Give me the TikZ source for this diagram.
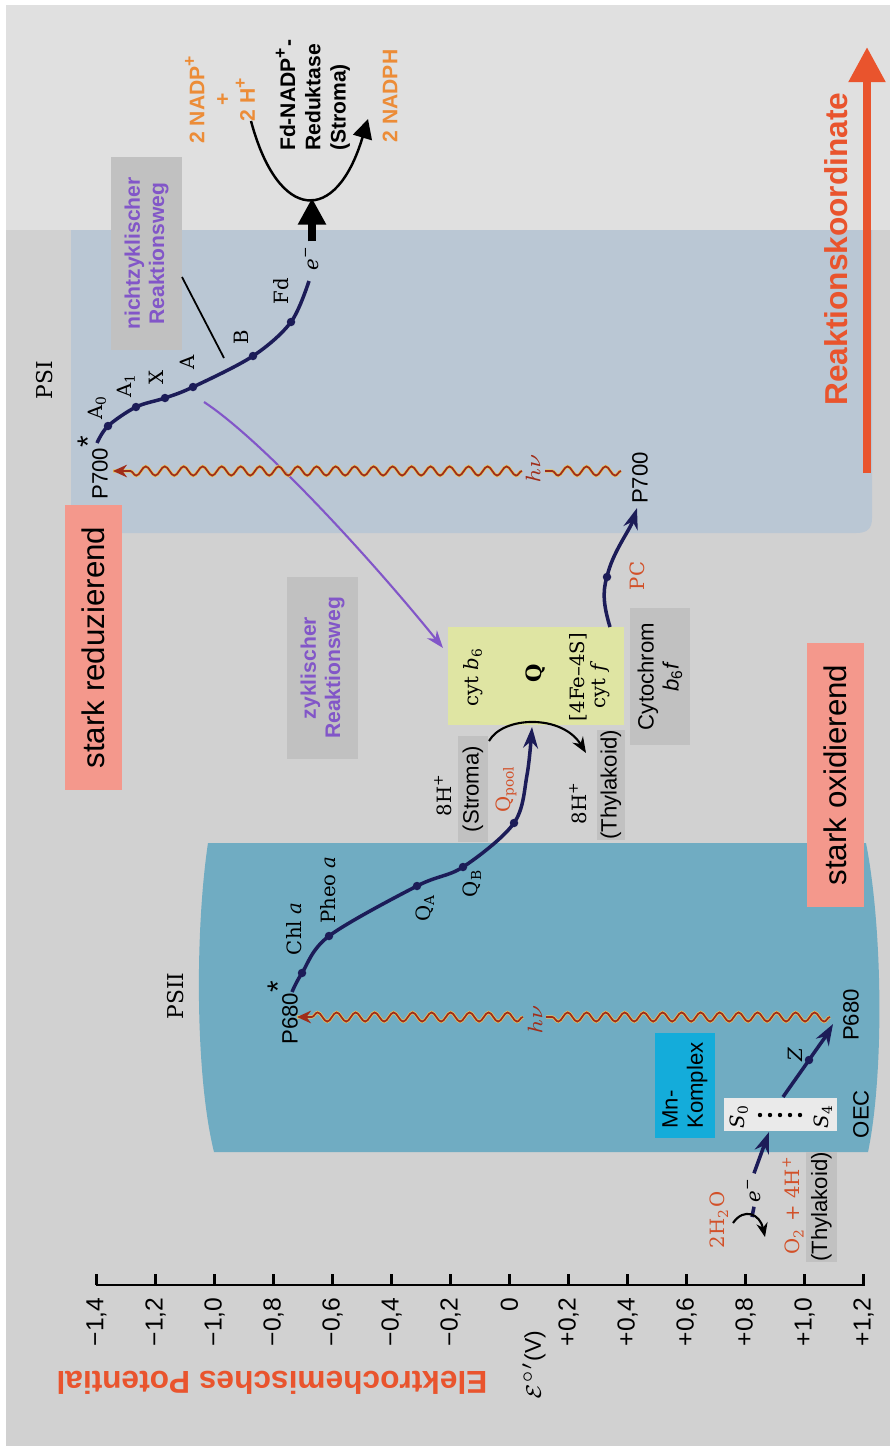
\documentclass[tikz,border=0pt]{standalone}
\usepackage{fontspec}
\setmainfont{Liberation Sans}
\newfontfamily\serifface{DejaVu Serif}
\usepackage{tikz}
\usetikzlibrary{arrows.meta,decorations.pathmorphing,positioning}

\definecolor{bggrey}{RGB}{209,209,209}
\definecolor{topgrey}{RGB}{224,224,224}
\definecolor{psione}{RGB}{186,199,212}
\definecolor{psitwo}{RGB}{112,172,194}
\definecolor{salmon}{RGB}{244,152,140}
\definecolor{redorange}{RGB}{233,84,45}
\definecolor{orangeT}{RGB}{236,140,55}
\definecolor{navy}{RGB}{28,28,88}
\definecolor{violet}{RGB}{130,86,200}
\definecolor{boxgrey}{RGB}{193,193,193}
\definecolor{cytyellow}{RGB}{223,229,163}
\definecolor{mncyan}{RGB}{20,172,218}
\definecolor{brownred}{RGB}{160,45,25}
\definecolor{wavey}{RGB}{232,196,96}
\definecolor{chemred}{RGB}{210,80,40}
\definecolor{sboxwhite}{RGB}{234,234,234}

\newcommand\bigstar{\textsuperscript{\fontsize{8.5}{8.5}\selectfont *}}

\begin{document}
\begin{tikzpicture}[x=0.01cm, y=-0.01cm,
    lbl/.style={rotate=90, inner sep=1pt, font=\fontsize{6.3}{7.2}\selectfont},
    slbl/.style={rotate=90, inner sep=1pt, font=\serifface\fontsize{5.6}{6.6}\selectfont},
    chem/.style={slbl, text=chemred},
    hnu/.style={rotate=90, inner sep=0pt, text=brownred, font=\fontsize{6.5}{7}\selectfont},
    ticklbl/.style={rotate=90, anchor=east, inner sep=0pt, font=\fontsize{7}{8}\selectfont},
    stark/.style={rotate=90, fill=salmon, minimum height=0.57cm, inner sep=0pt, font=\fontsize{8.9}{10}\selectfont},
    pathbox/.style={rotate=90, fill=boxgrey, align=center, text=violet, inner sep=0pt, font=\bfseries\fontsize{6}{6.9}\selectfont},
    greybox/.style={rotate=90, fill=boxgrey, inner sep=0pt, font=\fontsize{6.3}{7.1}\selectfont},
    boldlbl/.style={rotate=90, inner sep=0pt, font=\bfseries\fontsize{6}{7.2}\selectfont},
    etchain/.style={navy, line width=1pt},
    etchainarrow/.style={etchain, -{Stealth[length=6pt, width=4.2pt]}},
    dot/.style={circle, fill=navy, inner sep=0pt, minimum size=0.085cm},
    wave/.style={decorate, decoration={snake, amplitude=1.3pt, segment length=5.4pt}},
    wavetip/.style={decorate, decoration={snake, amplitude=1.3pt, segment length=5.4pt, post length=3pt}}]

  % background and the two photosystems
  \useasboundingbox (0,0) rectangle (890,1451);
  \fill[white] (0,0) rectangle (890,1451);
  \fill[bggrey] (6,5) rectangle (890,1446);
  \fill[topgrey] (6,5) rectangle (890,230);
  \fill[psione] (71,230) -- (71,518) .. controls (71,529) and (76,533) .. (87,533)
    -- (856,533) .. controls (867,533) and (872,529) .. (872,518) -- (872,230) -- cycle;
  \fill[psitwo] (208,843) .. controls (195,930) and (195,1075) .. (214,1152)
    -- (868,1152) .. controls (884,1075) and (883,930) .. (866,843) -- cycle;

  % potential axis
  \coordinate (ax0) at (96,1285);
  \coordinate (ax1) at (865,1285);
  \draw[line width=0.7pt] (ax0) -- (ax1);
  \foreach \lab [count=\i from 0] in {{−1,4},{−1,2},{−1,0},{−0,8},{−0,6},{−0,4},{−0,2},{0},{+0,2},{+0,4},{+0,6},{+0,8},{+1,0},{+1,2}} {
    \draw[line width=0.7pt] (96.5+59*\i,1285) -- (96.5+59*\i,1274);
    \node[ticklbl] (tk\i) at (96.5+59*\i,1297) {\lab};
  }
  \node[rotate=90, inner sep=0pt, font=\fontsize{6.5}{7}\selectfont] (evolt) at (534,1365) {$\mathcal{E}^{\circ\prime}$(V)};
  \node[rotate=180, text=redorange, font=\bfseries\fontsize{9}{10}\selectfont] (ecp) at (272,1383) {Elektrochemisches Potential};

  % reaction coordinate
  \coordinate (rk0) at (867,473);
  \coordinate (rk1) at (867,47);
  \draw[redorange, line width=2.3pt, -{Triangle[width=10pt, length=10pt]}] (rk0) -- (rk1);
  \node[rotate=90, text=redorange, font=\bfseries\fontsize{9}{10}\selectfont] (rktext) at (836,249) {Reaktionskoordinate};

  % PSI chain
  \node[slbl, font=\serifface\fontsize{6.2}{7}\selectfont] (psi) at (45,380) {PSI};
  \coordinate (p700s) at (97,443);
  \coordinate (a0) at (108,426);
  \coordinate (a1) at (136,407);
  \coordinate (xx) at (165,398);
  \coordinate (aa) at (193,387);
  \coordinate (bb) at (253,356);
  \coordinate (fd) at (291,322);
  \coordinate (fdend) at (309,281);
  \draw[etchain] plot[smooth, tension=0.55] coordinates {(p700s) (a0) (a1) (xx) (aa) (bb) (fd) (fdend)};
  \foreach \c in {a0,a1,xx,aa,bb,fd} \node[dot] (d\c) at (\c) {};
  \node[lbl] (p700slab) at (93,467) {P700\bigstar};
  \node[slbl] (la0) at (97,407) {A\textsubscript{0}};
  \node[slbl] (la1) at (126,385) {A\textsubscript{1}};
  \node[slbl] (lxx) at (156,377) {X};
  \node[slbl] (laa) at (187,362) {A};
  \node[slbl] (lbb) at (241,337) {B};
  \node[slbl] (lfd) at (281,291) {Fd};
  \node[slbl] (epsi) at (312,258) {\textit{e}\textsuperscript{−}};
  \coordinate (ubot) at (312,198);
  \draw[line width=2pt, -{Triangle[width=7.6pt, length=7.6pt]}] (epsi.east) -- (ubot);

  % NADP+ reduction
  \coordinate (nadpin) at (251,121);
  \coordinate (nadpout) at (368,119);
  \draw[line width=0.7pt, -{Triangle[width=5.5pt, length=5.5pt]}] (nadpin) .. controls (278,222) and (336,226) .. (nadpout);
  \node[boldlbl, text=orangeT, align=center] (nadp) at (220,99) {2 NADP\textsuperscript{+}\\+\\2 H\textsuperscript{+}};
  \node[boldlbl, align=left] (fnr) at (313,95) {Fd-NADP\textsuperscript{+}-\\Reduktase\\(Stroma)};
  \node[boldlbl, text=orangeT] (nadph) at (390,96) {2 NADPH};

  % pathways
  \node[pathbox, minimum width=1.93cm, minimum height=0.71cm] (noncyc) at (146.5,253.5) {nichtzyklischer\\Reaktionsweg};
  \coordinate (nl0) at (182,277);
  \coordinate (nl1) at (224,358);
  \draw[line width=0.5pt] (nl0) -- (nl1);
  \node[pathbox, minimum width=1.82cm, minimum height=0.7cm] (cyclic) at (322.5,668) {zyklischer\\Reaktionsweg};
  \coordinate (cyc0) at (204,402);
  \coordinate (cyc1) at (443,648);
  \draw[violet, line width=0.6pt, -{Stealth[length=5pt, width=3.6pt]}] (cyc0) .. controls (262,440) and (372,560) .. (cyc1);

  % light arrows
  \node[hnu] (hnu1) at (533,469) {$h\nu$};
  \node[hnu] (hnu2) at (535,1020) {$h\nu$};
  \node[lbl] (p700) at (640,478) {P700};
  \node[lbl] (p680) at (851,1015) {P680};
  \coordinate (w1a) at (621,471);
  \coordinate (w1b) at (545,471);
  \coordinate (w1c) at (522,471);
  \coordinate (w1d) at (113,471);
  \coordinate (w2a) at (830,1017);
  \coordinate (w2b) at (546,1017);
  \coordinate (w2c) at (523,1017);
  \coordinate (w2d) at (297,1017);
  \foreach \s/\e in {w1a/w1b, w2a/w2b} {
    \draw[wave, wavey, line width=0.9pt] (\s) -- (\e);
    \draw[wave, brownred, line width=0.5pt] (\s) -- (\e);
  }
  \foreach \s/\e in {w1c/w1d, w2c/w2d} {
    \draw[wavetip, wavey, line width=0.9pt] (\s) -- (\e);
    \draw[wavetip, brownred, line width=0.5pt, -{Stealth[length=4pt, width=3.6pt]}] (\s) -- (\e);
  }

  % cytochrome b6f complex
  \node[fill=cytyellow, minimum width=1.76cm, minimum height=0.98cm, inner sep=0pt] (cytbox) at (536,676) {};
  \node[slbl] (cytb) at (473,677) {cyt \textit{b}\textsubscript{6}};
  \node[slbl, font=\serifface\bfseries\fontsize{6}{7}\selectfont] (qq) at (536,673) {Q};
  \node[slbl] (fes) at (578,677) {[4Fe–4S]};
  \node[slbl] (cytf) at (600,685) {cyt \textit{f}};
  \node[greybox, align=center, minimum width=1.37cm, minimum height=0.6cm] (cytname) at (660,676.5) {Cytochrom\\\textit{b}\textsubscript{6}\textit{f}};
  \node[slbl] (hup) at (443,795) {8H\textsuperscript{+}};
  \node[greybox, minimum width=1.05cm, minimum height=0.3cm] (stroma) at (473,789) {(Stroma)};
  \node[chem] (qpool) at (506,789) {Q\textsubscript{pool}};
  \node[slbl] (hdown) at (578,803) {8H\textsuperscript{+}};
  \node[greybox, minimum width=1.1cm, minimum height=0.28cm] (thylb) at (611,785) {(Thylakoid)};
  \coordinate (harc0) at (489,741);
  \coordinate (harc1) at (586,753);
  \draw[line width=0.6pt, -{Stealth[length=4.5pt, width=3.5pt]}] (harc0) .. controls (503,716) and (562,714) .. (harc1);

  % PC to P700
  \coordinate (pc0) at (610,627);
  \coordinate (pcd) at (607,577);
  \coordinate (pc1) at (637,508);
  \draw[etchainarrow] (pc0) .. controls (604,607) and (602,592) .. (pcd) .. controls (612,553) and (630,530) .. (pc1);
  \node[dot] (dpc) at (pcd) {};
  \node[chem] (pc) at (637,576) {PC};

  % PSII chain
  \node[slbl, font=\serifface\fontsize{6.2}{7}\selectfont] (psii) at (176,996) {PSII};
  \coordinate (p680s) at (292,992);
  \coordinate (chla) at (302,973);
  \coordinate (pheo) at (329,936);
  \coordinate (qa) at (417,886);
  \coordinate (qb) at (463,867);
  \coordinate (qp) at (514,823);
  \coordinate (qup) at (527,775);
  \coordinate (qend) at (532,727);
  \draw[etchainarrow] plot[smooth, tension=0.55] coordinates {(p680s) (chla) (pheo) (qa) (qb) (qp) (qup) (qend)};
  \foreach \c in {chla,pheo,qa,qb,qp} \node[dot] (d\c) at (\c) {};
  \node[lbl] (p680slab) at (283,1012) {P680\bigstar};
  \node[slbl] (lchla) at (294,929) {Chl \textit{a}};
  \node[slbl] (lpheo) at (328,890) {Pheo \textit{a}};
  \node[slbl] (lqa) at (425,908) {Q\textsubscript{A}};
  \node[slbl] (lqb) at (472,883) {Q\textsubscript{B}};

  % water splitting
  \node[fill=mncyan, rotate=90, minimum width=1.05cm, minimum height=0.6cm, inner sep=0pt, align=left, font=\fontsize{6.3}{7.2}\selectfont] (mn) at (685,1085.5) {Mn-\\Komplex};
  \node[fill=sboxwhite, minimum width=1.13cm, minimum height=0.33cm, inner sep=0pt] (sbox) at (780.5,1114) {};
  \node[slbl] (s0) at (739,1116) {\textit{S}\textsubscript{0}};
  \node[slbl] (s4) at (823,1116) {\textit{S}\textsubscript{4}};
  \foreach \k in {0,...,4} \fill (760+10*\k,1115) circle (0.022cm);
  \node[lbl] (oec) at (861,1114) {OEC};
  \coordinate (zs) at (783,1097);
  \coordinate (zd) at (809,1060);
  \coordinate (zt) at (833,1024);
  \draw[etchainarrow] (zs) .. controls (792,1084) and (800,1073) .. (zd) .. controls (818,1047) and (826,1036) .. (zt);
  \node[dot] (dz) at (zd) {};
  \node[slbl] (zlab) at (795,1055) {\textit{Z}};
  \node[slbl] (eoec) at (754,1190) {\textit{e}\textsuperscript{−}};
  \coordinate (etip) at (769,1132);
  \coordinate (etail) at (752,1217);
  \draw[etchainarrow] (eoec.east) -- (etip);
  \draw[etchain] (eoec.west) -- (etail);
  \node[chem] (water) at (719,1220) {2H\textsubscript{2}O};
  \node[chem] (oxy) at (793,1205) {O\textsubscript{2} + 4H\textsuperscript{+}};
  \node[greybox, minimum width=1.0cm, minimum height=0.31cm] (thyla) at (821.5,1207) {(Thylakoid)};
  \coordinate (warc0) at (733,1223);
  \coordinate (warc1) at (765,1237);
  \draw[line width=0.6pt, -{Stealth[length=4pt, width=3.2pt]}] (warc0) .. controls (744,1207) and (760,1214) .. (warc1);

  % redox labels
  \node[stark, minimum width=2.85cm] (reduz) at (93.5,647.5) {stark reduzierend};
  \node[stark, minimum width=2.64cm] (oxid) at (835.5,775) {stark oxidierend};
\end{tikzpicture}
\end{document}
